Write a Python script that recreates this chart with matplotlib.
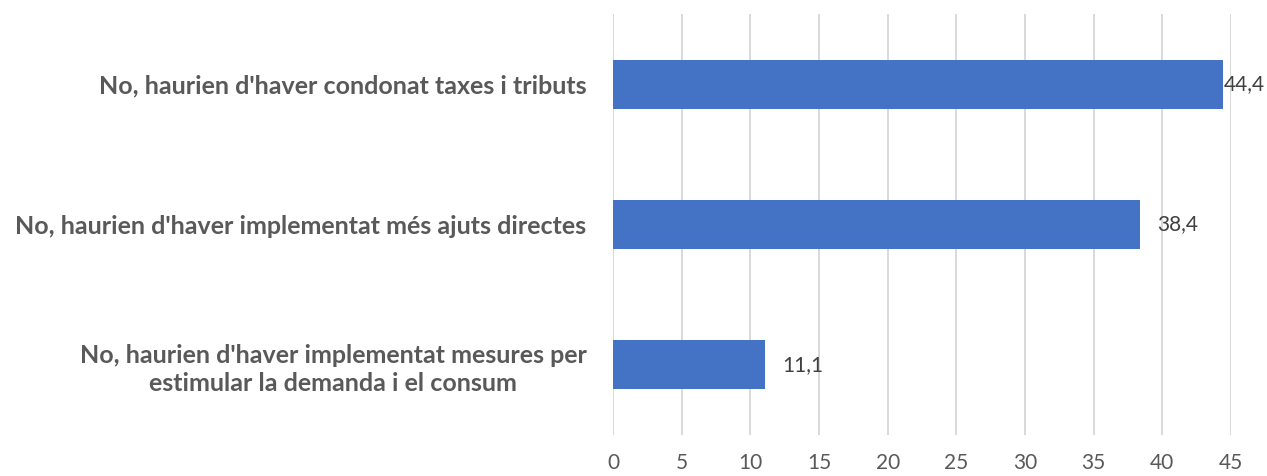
import matplotlib
matplotlib.use("Agg")
import matplotlib.pyplot as plt

categories = [
    "No, haurien d'haver implementat mesures per\nestimular la demanda i el consum",
    "No, haurien d'haver implementat més ajuts directes",
    "No, haurien d'haver condonat taxes i tributs",
]
values = [11.1, 38.4, 44.4]
xticks = [0, 5, 10, 15, 20, 25, 30, 35, 40, 45]

plt.rcParams["font.family"] = ["Lato", "DejaVu Sans"]

fig = plt.figure(figsize=(12.67, 4.76), dpi=100)
ax = fig.add_axes([0.4838, 0.0861, 0.4878, 0.8845])

ypos = list(range(len(categories)))
ax.barh(ypos, values, height=0.35, color="#4472C4", zorder=3)

ax.set_xlim(0, 45)
ax.set_ylim(-0.5, len(categories) - 0.5)
ax.set_xticks(xticks)
ax.set_xticklabels([str(t) for t in xticks], fontsize=15, color="#595959")
ax.set_yticks(ypos)
ax.set_yticklabels(categories, fontsize=18, fontweight="bold", color="#595959",
                   multialignment="center", linespacing=1.25)
ax.tick_params(axis="both", length=0)
ax.tick_params(axis="y", pad=19)
ax.tick_params(axis="x", pad=13)
ax.grid(axis="x", color="#D9D9D9", linewidth=1.4, zorder=0)
for s in ax.spines.values():
    s.set_visible(False)

# value labels, pulled back inside the figure if they would overflow
labels = []
for y, v in zip(ypos, values):
    t = ax.annotate(f"{v:.1f}".replace(".", ","), xy=(v, y), xytext=(12, 0),
                    textcoords="offset points", va="center", ha="left",
                    fontsize=15, color="#404040", zorder=4)
    labels.append(t)

fig.canvas.draw()
r = fig.canvas.get_renderer()
W = fig.bbox.width
for t in labels:
    bb = t.get_window_extent(r)
    if bb.x1 > W - 4:
        dx = (bb.x1 - (W - 4)) * 72 / fig.dpi
        x0, y0 = t.xyann
        t.xyann = (max(x0 - dx, 1), y0)

fig.savefig("out.png", dpi=100)
